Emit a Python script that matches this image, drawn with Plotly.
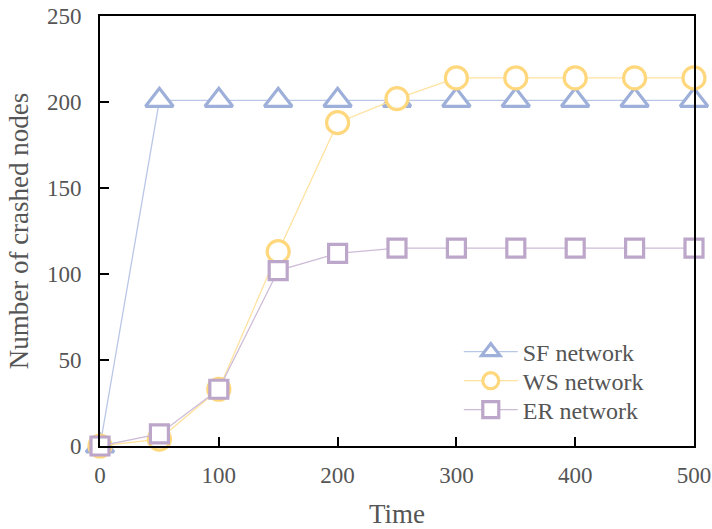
import plotly.graph_objects as go

time = [0, 50, 100, 150, 200, 250, 300, 350, 400, 450, 500]
sf = [0, 201, 201, 201, 201, 201, 201, 201, 201, 201, 201]
ws = [0, 4, 33, 113, 188, 202, 214, 214, 214, 214, 214]
er = [0, 7, 33, 102, 112, 115, 115, 115, 115, 115, 115]
names = ["SF network", "WS network", "ER network"]

series = [
    (sf, names[0], "#9eb0da", "#b9c6e6", "triangle-up", 24, "legend"),
    (ws, names[1], "#ffd77c", "#ffe2a0", "circle", 22, "legend2"),
    (er, names[2], "#bca6c9", "#cdbcd7", "square", 18, "legend3"),
]

FAM = "Liberation Serif, Times New Roman, serif"
font_color = "#555555"

fig = go.Figure()
for ys, name, mc, lc, sym, sz, lg in series:
    fig.add_trace(go.Scatter(
        x=time, y=ys, name=name, mode="lines+markers",
        line=dict(color=lc, width=1.3),
        marker=dict(symbol=sym, size=sz, color="white",
                    line=dict(color=mc, width=3.2)),
        cliponaxis=False, legend=lg,
    ))

def leg(yc):
    return dict(x=0.604, y=yc, xanchor="left", yanchor="middle",
                bgcolor="rgba(0,0,0,0)",
                font=dict(family=FAM, size=24, color=font_color),
                itemwidth=54)

fig.update_layout(
    width=712, height=529,
    margin=dict(l=100, r=18, t=16, b=83, autoexpand=False),
    paper_bgcolor="white", plot_bgcolor="white",
    font=dict(family=FAM, size=23, color=font_color),
    showlegend=True,
    legend=leg(0.2186), legend2=leg(0.151), legend3=leg(0.0837),
)
fig.update_xaxes(
    range=[0, 500], tickvals=[0, 100, 200, 300, 400, 500],
    ticks="inside", ticklen=9, tickwidth=2, tickcolor="black",
    showline=True, linecolor="black", linewidth=2, mirror=True,
    showgrid=False, zeroline=False, ticklabelstandoff=7, automargin=False,
    tickfont=dict(family=FAM, size=23, color=font_color),
    title=dict(text="Time", font=dict(family=FAM, size=27, color=font_color), standoff=30),
)
fig.update_yaxes(
    range=[0, 250], tickvals=[0, 50, 100, 150, 200, 250],
    ticks="inside", ticklen=9, tickwidth=2, tickcolor="black",
    showline=True, linecolor="black", linewidth=2, mirror=True,
    showgrid=False, zeroline=False, ticklabelstandoff=12, automargin=False,
    tickfont=dict(family=FAM, size=23, color=font_color),
    title=dict(text="Number of crashed nodes", font=dict(family=FAM, size=27, color=font_color), standoff=10),
)
# remove the default 8px body margin so the figure fills the 712x529 window exactly
fig.write_html("out.html", config={"displayModeBar": False},
               post_script="document.body.style.margin='0px';")
